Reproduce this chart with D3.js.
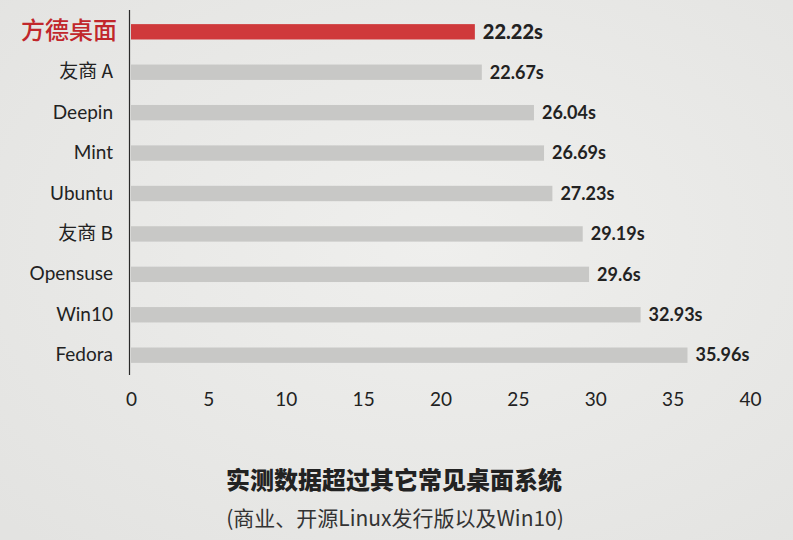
<!DOCTYPE html>
<html>
<head>
<meta charset="utf-8">
<script src="https://cdn.jsdelivr.net/npm/d3@7"></script>
<style>
  html, body { margin: 0; padding: 0; }
  body { width: 793px; height: 540px; overflow: hidden; background: #e9e9e7; }
  #chart { width: 793px; height: 540px; }
</style>
</head>
<body>
<div id="chart"></div>
<script>

var systems = ["方德桌面", "友商 A", "Deepin", "Mint", "Ubuntu", "友商 B", "Opensuse", "Win10", "Fedora"];
var bootTimes = [22.22, 22.67, 26.04, 26.69, 27.23, 29.19, 29.6, 32.93, 35.96];
var xTicks = [0, 5, 10, 15, 20, 25, 30, 35, 40];
var titleText = "实测数据超过其它常见桌面系统";
var subtitleText = "(商业、开源Linux发行版以及Win10)";

var latin = "Lato, 'Noto Sans CJK SC', sans-serif";
var cjk = "'Noto Sans CJK SC', Lato, sans-serif";

var width = 793, height = 540;
var red = "#cf393b", grey = "#c8c8c6", ink = "#222";

var svg = d3.select("#chart").append("svg")
    .attr("width", width)
    .attr("height", height);

// soft vignette like the photo of the slide
var grad = svg.append("defs").append("radialGradient")
    .attr("id", "bg")
    .attr("cx", "55%").attr("cy", "45%").attr("r", "75%");
grad.append("stop").attr("offset", "0%").attr("stop-color", "#efefed");
grad.append("stop").attr("offset", "100%").attr("stop-color", "#e3e3e1");
svg.append("rect")
    .attr("width", width).attr("height", height)
    .attr("fill", "url(#bg)");

// set the ranges
var x = d3.scaleLinear().domain([0, 40]).range([131, 750]);
var y = d3.scaleBand().domain(systems).range([12, 375])
    .paddingInner(0.62).paddingOuter(0.3);

// bars
svg.selectAll(".bar")
    .data(systems)
    .enter().append("rect")
    .attr("class", "bar")
    .attr("x", x(0))
    .attr("y", function(d) { return y(d); })
    .attr("width", function(d, i) { return x(bootTimes[i]) - x(0); })
    .attr("height", y.bandwidth())
    .attr("fill", function(d, i) { return i == 0 ? red : grey; });

// value labels
svg.selectAll(".value")
    .data(systems)
    .enter().append("text")
    .attr("class", "value")
    .attr("x", function(d, i) { return x(bootTimes[i]) + 8; })
    .attr("y", function(d) { return y(d) + y.bandwidth() / 2; })
    .attr("dy", "0.35em")
    .attr("font-family", latin)
    .attr("font-size", function(d, i) { return i == 0 ? "20px" : "18px"; })
    .attr("font-weight", function(d, i) { return i == 0 ? 900 : 700; })
    .attr("fill", ink)
    .text(function(d, i) { return bootTimes[i] + "s"; });

// y axis (line + category names)
var yAxis = svg.append("g")
    .attr("transform", "translate(" + x(0) + ",0)")
    .call(d3.axisLeft(y).tickSize(0).tickSizeOuter(0).tickPadding(18));
yAxis.select(".domain")
    .attr("stroke", "#2a2a2a")
    .attr("stroke-width", 1.2)
    .attr("d", "M-1.5,10V375");
yAxis.selectAll("text")
    .attr("x", function(d, i) { return i == 0 ? -14 : -18; })
    .attr("font-family", function(d) { return /[A-Za-z]/.test(d.charAt(0)) ? latin : cjk; })
    .attr("font-size", function(d, i) { return i == 0 ? "24px" : "19px"; })
    .attr("font-weight", function(d, i) { return i == 0 ? 500 : 400; })
    .attr("fill", function(d, i) { return i == 0 ? "#c1272b" : ink; });

// x axis: labels only
var xAxis = svg.append("g")
    .attr("transform", "translate(0,392)")
    .call(d3.axisBottom(x).tickValues(xTicks).tickSize(0).tickPadding(0));
xAxis.select(".domain").remove();
xAxis.selectAll("text")
    .attr("font-family", latin)
    .attr("font-size", "19px")
    .attr("fill", ink);

// caption
svg.append("text")
    .attr("x", 394).attr("y", 489)
    .attr("text-anchor", "middle")
    .attr("font-family", cjk)
    .attr("font-size", "24px")
    .attr("font-weight", 900)
    .attr("fill", ink)
    .text(titleText);

svg.append("text")
    .attr("x", 395).attr("y", 526)
    .attr("text-anchor", "middle")
    .attr("font-family", cjk)
    .attr("font-size", "21px")
    .attr("fill", "#333")
    .text(subtitleText);

</script>
</body>
</html>
